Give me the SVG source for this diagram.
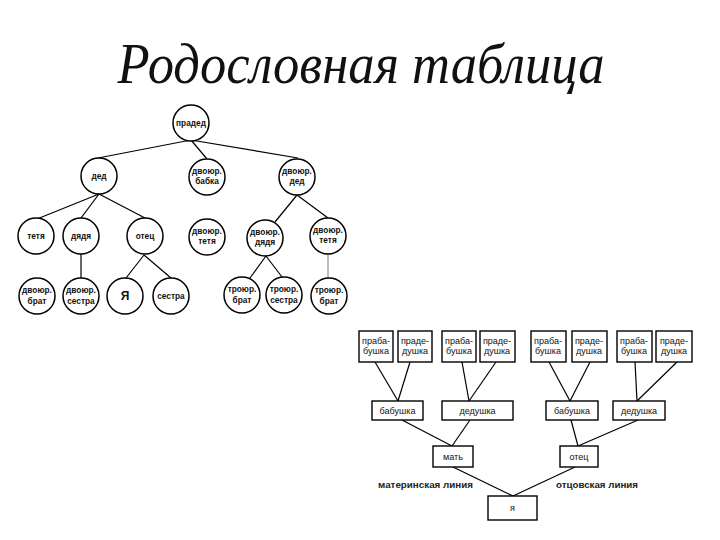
<svg xmlns="http://www.w3.org/2000/svg" width="720" height="540" viewBox="0 0 720 540">
<style>
.c{fill:#fff;stroke:#000;stroke-width:1.5}
.b{fill:#fff;stroke:#000;stroke-width:1.4}
.ct{font-family:"Liberation Sans",Arial,sans-serif;font-weight:bold;font-size:8.3px;text-anchor:middle;fill:#111}
.bt{font-family:"Liberation Sans",Arial,sans-serif;font-size:9px;text-anchor:middle;fill:#111}
.lt{font-family:"Liberation Sans",Arial,sans-serif;font-weight:bold;font-size:8.5px;fill:#222}
.ln{stroke:#000;stroke-width:1.2;fill:none}
</style>
<rect width="720" height="540" fill="#fff"/>
<text x="361" y="83" font-family="'Liberation Serif','DejaVu Serif',serif" font-style="italic" font-size="56" text-anchor="middle" textLength="487" lengthAdjust="spacingAndGlyphs" fill="#111">Родословная таблица</text>
<g id="connectors" class="ln">
<line x1="191" y1="140" x2="98" y2="158"/>
<line x1="191" y1="140" x2="207" y2="159"/>
<line x1="191" y1="140" x2="298" y2="158"/>
<line x1="99" y1="194" x2="37" y2="219"/>
<line x1="99" y1="194" x2="81" y2="218"/>
<line x1="99" y1="194" x2="145" y2="218"/>
<line x1="81" y1="254" x2="81" y2="278"/>
<line x1="144" y1="255" x2="126" y2="278"/>
<line x1="144" y1="255" x2="171" y2="278"/>
<line x1="297" y1="195" x2="275" y2="222"/>
<line x1="297" y1="195" x2="328" y2="218"/>
<line x1="266" y1="256" x2="250" y2="278"/>
<line x1="266" y1="256" x2="282" y2="277"/>
<line x1="328" y1="254" x2="328" y2="278" stroke="#bbb" stroke-width="2"/>
<line x1="375" y1="362" x2="398" y2="401"/>
<line x1="410" y1="362" x2="398" y2="401"/>
<line x1="462" y1="362" x2="469" y2="401"/>
<line x1="496" y1="362" x2="469" y2="401"/>
<line x1="549" y1="362" x2="570" y2="401"/>
<line x1="590" y1="362" x2="570" y2="401"/>
<line x1="635" y1="362" x2="637" y2="401"/>
<line x1="677" y1="362" x2="637" y2="401"/>
<line x1="402" y1="420" x2="452" y2="446"/>
<line x1="470" y1="420" x2="452" y2="446"/>
<line x1="571" y1="420" x2="578" y2="446"/>
<line x1="638" y1="420" x2="578" y2="446"/>
<line x1="453" y1="467" x2="513" y2="496"/>
<line x1="575" y1="467" x2="513" y2="496"/>
</g>
<g id="n-praded"><circle class="c" cx="191" cy="123" r="18"/><text class="ct" x="191" y="126">прадед</text></g>
<g id="n-ded"><circle class="c" cx="99" cy="176" r="18"/><text class="ct" x="99" y="179">дед</text></g>
<g id="n-dv-babka"><circle class="c" cx="207" cy="177" r="18"/><text class="ct" x="207" y="174">двоюр.</text><text class="ct" x="207" y="184">бабка</text></g>
<g id="n-dv-ded"><circle class="c" cx="297" cy="177" r="18"/><text class="ct" x="297" y="174">двоюр.</text><text class="ct" x="297" y="184">дед</text></g>
<g id="n-tetya"><circle class="c" cx="36" cy="236" r="18"/><text class="ct" x="36" y="239">тетя</text></g>
<g id="n-dyadya"><circle class="c" cx="81" cy="236" r="18"/><text class="ct" x="81" y="239">дядя</text></g>
<g id="n-otec"><circle class="c" cx="145" cy="236" r="18"/><text class="ct" x="145" y="239">отец</text></g>
<g id="n-dv-tetya1"><circle class="c" cx="207" cy="237" r="18"/><text class="ct" x="207" y="234">двоюр.</text><text class="ct" x="207" y="244">тетя</text></g>
<g id="n-dv-dyadya"><circle class="c" cx="265" cy="238" r="18"/><text class="ct" x="265" y="235">двоюр.</text><text class="ct" x="265" y="245">дядя</text></g>
<g id="n-dv-tetya2"><circle class="c" cx="328" cy="236" r="18"/><text class="ct" x="328" y="233">двоюр.</text><text class="ct" x="328" y="243">тетя</text></g>
<g id="n-dv-brat"><circle class="c" cx="37" cy="296" r="18"/><text class="ct" x="37" y="293">двоюр.</text><text class="ct" x="37" y="304">брат</text></g>
<g id="n-dv-sestra"><circle class="c" cx="81" cy="296" r="18"/><text class="ct" x="81" y="293">двоюр.</text><text class="ct" x="81" y="304">сестра</text></g>
<g id="n-ya"><circle class="c" cx="125" cy="296" r="18"/><text class="ct" x="125" y="300" style="font-size:12px">Я</text></g>
<g id="n-sestra"><circle class="c" cx="171" cy="296" r="18"/><text class="ct" x="171" y="299">сестра</text></g>
<g id="n-tr-brat1"><circle class="c" cx="242" cy="295" r="18"/><text class="ct" x="242" y="292">троюр.</text><text class="ct" x="242" y="303">брат</text></g>
<g id="n-tr-sestra"><circle class="c" cx="284" cy="295" r="18"/><text class="ct" x="284" y="292">троюр.</text><text class="ct" x="284" y="303">сестра</text></g>
<g id="n-tr-brat2"><circle class="c" cx="329" cy="296" r="18"/><text class="ct" x="329" y="293">троюр.</text><text class="ct" x="329" y="304">брат</text></g>
<g id="b-prababushka1"><rect class="b" x="359" y="331" width="34" height="31"/><text class="bt" x="376" y="344">праба-</text><text class="bt" x="376" y="354">бушка</text></g>
<g id="b-pradedushka1"><rect class="b" x="398" y="331" width="34" height="31"/><text class="bt" x="415" y="344">праде-</text><text class="bt" x="415" y="354">душка</text></g>
<g id="b-prababushka2"><rect class="b" x="442" y="331" width="34" height="31"/><text class="bt" x="459" y="344">праба-</text><text class="bt" x="459" y="354">бушка</text></g>
<g id="b-pradedushka2"><rect class="b" x="480" y="331" width="35" height="31"/><text class="bt" x="497" y="344">праде-</text><text class="bt" x="497" y="354">душка</text></g>
<g id="b-prababushka3"><rect class="b" x="531" y="331" width="35" height="31"/><text class="bt" x="548" y="344">праба-</text><text class="bt" x="548" y="354">бушка</text></g>
<g id="b-pradedushka3"><rect class="b" x="572" y="331" width="35" height="31"/><text class="bt" x="589" y="344">праде-</text><text class="bt" x="589" y="354">душка</text></g>
<g id="b-prababushka4"><rect class="b" x="617" y="331" width="35" height="31"/><text class="bt" x="634" y="344">праба-</text><text class="bt" x="634" y="354">бушка</text></g>
<g id="b-pradedushka4"><rect class="b" x="656" y="331" width="36" height="31"/><text class="bt" x="674" y="344">праде-</text><text class="bt" x="674" y="354">душка</text></g>
<g id="b-babushka1"><rect class="b" x="372" y="401" width="51" height="19"/><text class="bt" x="397.5" y="413.5">бабушка</text></g>
<g id="b-dedushka1"><rect class="b" x="442" y="401" width="71" height="19"/><text class="bt" x="477.5" y="413.5">дедушка</text></g>
<g id="b-babushka2"><rect class="b" x="546" y="401" width="52" height="19"/><text class="bt" x="572" y="413.5">бабушка</text></g>
<g id="b-dedushka2"><rect class="b" x="613" y="401" width="52" height="19"/><text class="bt" x="639" y="413.5">дедушка</text></g>
<g id="b-mat"><rect class="b" x="433" y="446" width="40" height="21"/><text class="bt" x="453" y="459.5">мать</text></g>
<g id="b-otec"><rect class="b" x="560" y="446" width="38" height="21"/><text class="bt" x="579" y="459.5">отец</text></g>
<g id="b-ya"><rect class="b" x="488" y="496" width="49" height="24"/><text class="bt" x="512.5" y="511">я</text></g>
<text class="lt" x="378" y="488" textLength="95" lengthAdjust="spacingAndGlyphs">материнская линия</text>
<text class="lt" x="556" y="488" textLength="82" lengthAdjust="spacingAndGlyphs">отцовская линия</text>
</svg>
